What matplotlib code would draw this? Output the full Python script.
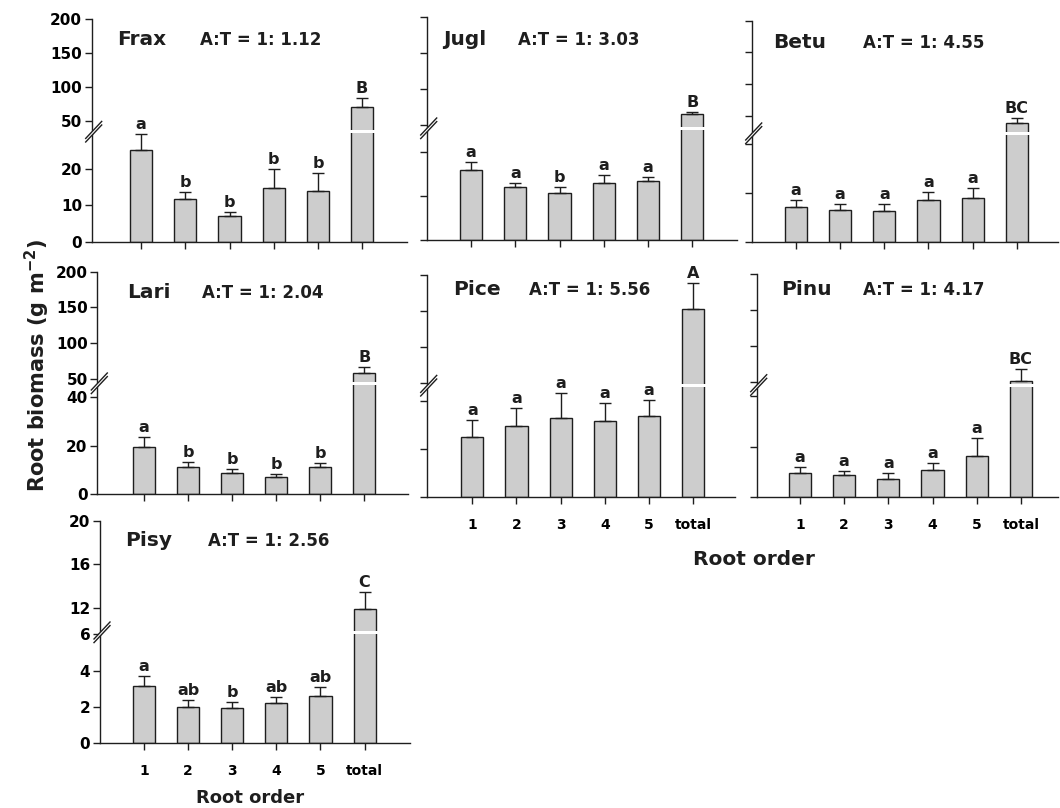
import numpy as np
import matplotlib
matplotlib.use('Agg')
import matplotlib.pyplot as plt
from matplotlib.lines import Line2D
from matplotlib.patches import Polygon

plt.rcParams['font.family'] = ['DejaVu Sans']
plt.rcParams['font.weight'] = 'bold'
plt.rcParams['mathtext.default'] = 'bf'

# data
orders = ['1', '2', '3', '4', '5', 'total']
species = ['Frax', 'Jugl', 'Betu', 'Lari', 'Pice', 'Pinu', 'Pisy']
ratios = ['1.12', '3.03', '4.55', '2.04', '5.56', '4.17', '2.56']

frax_mean = [25.0, 11.6, 7.0, 14.6, 14.0, 69.8]
frax_err = [4.4, 2.1, 1.2, 5.2, 4.8, 14.0]
frax_sig = ['a', 'b', 'b', 'b', 'b', 'B']

jugl_mean = [15.9, 12.1, 10.8, 12.9, 13.4, 65.3]
jugl_err = [1.8, 0.8, 1.2, 1.9, 0.9, 3.6]
jugl_sig = ['a', 'a', 'b', 'a', 'a', 'B']

betu_mean = [7.1, 6.6, 6.45, 8.6, 9.0, 38.2]
betu_err = [1.5, 1.3, 1.3, 1.6, 2.1, 7.9]
betu_sig = ['a', 'a', 'a', 'a', 'a', 'BC']

lari_mean = [19.5, 11.1, 8.6, 7.2, 11.3, 57.7]
lari_err = [3.9, 2.0, 1.9, 1.2, 1.5, 8.4]
lari_sig = ['a', 'b', 'b', 'b', 'b', 'B']

pice_mean = [24.9, 29.6, 33.0, 31.7, 33.7, 152.8]
pice_err = [7.2, 7.6, 10.2, 7.6, 6.6, 35.7]
pice_sig = ['a', 'a', 'a', 'a', 'a', 'A']

pinu_mean = [9.7, 8.7, 7.4, 10.7, 16.3, 51.4]
pinu_err = [2.4, 1.7, 2.3, 3.0, 7.3, 15.9]
pinu_sig = ['a', 'a', 'a', 'a', 'a', 'BC']

pisy_mean = [3.17, 2.01, 1.92, 2.2, 2.6, 11.9]
pisy_err = [0.55, 0.37, 0.37, 0.33, 0.5, 1.6]
pisy_sig = ['a', 'ab', 'b', 'ab', 'ab', 'C']

means = [frax_mean, jugl_mean, betu_mean, lari_mean, pice_mean, pinu_mean, pisy_mean]
errs = [frax_err, jugl_err, betu_err, lari_err, pice_err, pinu_err, pisy_err]
sigs = [frax_sig, jugl_sig, betu_sig, lari_sig, pice_sig, pinu_sig, pisy_sig]

lo_ticks = [[0, 10, 20], [0, 10, 20], [0, 10, 20], [0, 20, 40], [0, 20, 40], [0, 20, 40], [0, 2, 4, 6]]
hi_ticks = [[50, 100, 150, 200]] * 6 + [[12, 16, 20]]
lo_top = [30.1, 25.4, 22.2, 45.5, 46.3, 44.4, 6.1]
hi_bot = [33.7, 45.8, 22.4, 43.7, 46.3, 45.4, 9.76]
hi_top = [200, 200, 200, 200, 200, 200, 20]

# layout in pixels: left, right, top, gap, zero
W, H = 1060, 808
boxes = [
  (91.7, 406.7, 19, 131.7, 241.7),
  (426.7, 736.7, 17.3, 128.3, 240),
  (751.7, 1058, 20.7, 133.3, 242.3),
  (97.3, 408.3, 271.7, 383.3, 494.3),
  (426.7, 735, 275, 385.7, 497.3),
  (756.7, 1058, 274, 385, 497.3),
  (100, 410, 520.7, 632.3, 743.3),
]
xlims = [(-1.12, 6.01), (-1.0, 6.0), (-1.0, 5.93), (-1.06, 6.0), (-1.03, 5.94), (-0.98, 5.84), (-1.0, 6.03)]
title_pos = [(116.7, 200, 45), (443.3, 518.3, 45), (773.3, 863.3, 48), (126.7, 201.7, 298),
             (453.3, 529.3, 295), (780.7, 863.3, 295), (125, 208.3, 546.5)]
ylab_on = [True, False, False, True, False, False, True]
xlab_on = [False, False, False, False, True, True, True]

fill = '#cdcdcd'
ink = '#1e1e1e'
lw = 1.0

fig = plt.figure(figsize=(W / 100, H / 100), dpi=100)


def fx(x):
  return x / W


def fy(y):
  return 1 - y / H


def style(ax):
  for s in ax.spines.values():
    s.set_color(ink)
    s.set_linewidth(lw)
  ax.spines['right'].set_visible(False)
  ax.spines['top'].set_visible(False)
  ax.tick_params(direction='out', length=5, width=lw, color=ink, labelsize=11, pad=2)
  ax.patch.set_alpha(0)


x = np.arange(len(orders))
half = 1.5
for i, name in enumerate(species):
  left, right, top, gap, zero = boxes[i]
  lo = fig.add_axes([fx(left), fy(zero), fx(right - left), (zero - gap - half) / H])
  hi = fig.add_axes([fx(left), fy(gap - half), fx(right - left), (gap - half - top) / H])
  lt = lo_top[i] * (zero - gap - half) / (zero - gap)
  hb = hi_top[i] - (hi_top[i] - hi_bot[i]) * (gap - half - top) / (gap - top)
  for ax in (lo, hi):
    style(ax)
    ax.bar(x, means[i], width=0.5, color=fill, edgecolor=ink, linewidth=lw)
    ax.errorbar(x, means[i], yerr=[np.zeros(len(x)), errs[i]], fmt='none',
                ecolor=ink, elinewidth=lw, capsize=4.5, capthick=lw)
    ax.set_xlim(*xlims[i])
  lo.set_ylim(0, lt)
  hi.set_ylim(hb, hi_top[i])
  lo.set_yticks(lo_ticks[i])
  hi.set_yticks(hi_ticks[i])
  hi.spines['bottom'].set_visible(False)
  hi.set_xticks([])
  lo.set_xticks(x)
  if xlab_on[i]:
    lo.set_xticklabels(orders, fontsize=10)
    lo.tick_params(axis='x', pad=10)
  else:
    lo.set_xticklabels([])
  if not ylab_on[i]:
    lo.set_yticklabels([])
    hi.set_yticklabels([])
  for j in range(len(x)):
    cap = means[i][j] + errs[i][j]
    ax = lo if cap <= lt else hi
    ax.annotate(sigs[i][j], (x[j], cap), xytext=(0, 3.5), textcoords='offset points',
                ha='center', va='baseline', fontsize=11.5, color=ink)
  tx, ax_x, by = title_pos[i]
  fig.text(fx(tx), fy(by), name, fontsize=14.5, color=ink, va='baseline')
  fig.text(fx(ax_x), fy(by), 'A:T = 1: ' + ratios[i], fontsize=12, color=ink, va='baseline')
  # axis break marks
  cx, cy = left + 2, gap
  dx, dy, off = 8, 8.5, 1.8
  band = [(fx(cx - dx), fy(cy + dy - off)), (fx(cx + dx), fy(cy - dy - off)),
          (fx(cx + dx), fy(cy - dy + off)), (fx(cx - dx), fy(cy + dy + off))]
  fig.add_artist(Polygon(band, closed=True, facecolor='white', edgecolor='none',
                         transform=fig.transFigure))
  for o in (-off, off):
    fig.add_artist(Line2D([fx(cx - dx), fx(cx + dx)], [fy(cy + dy + o), fy(cy - dy + o)],
                          color=ink, linewidth=lw, transform=fig.transFigure))

fig.text(fx(37), fy(366), 'Root biomass (g m$^{-2}$)', rotation=90, ha='center', va='center',
         fontsize=15, color=ink)
fig.text(fx(250), fy(803), 'Root order', ha='center', va='baseline', fontsize=13, color=ink)
fig.text(fx(754), fy(565), 'Root order', ha='center', va='baseline', fontsize=14.5, color=ink)

fig.savefig('out.png', dpi=100)
